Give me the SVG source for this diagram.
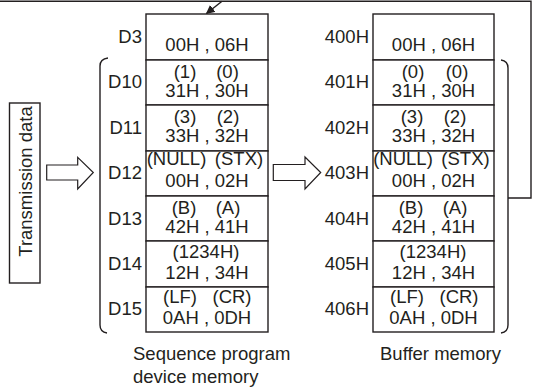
<svg xmlns="http://www.w3.org/2000/svg" width="533" height="387" viewBox="0 0 533 387">
<defs>
<style>
text{font-family:"Liberation Sans",Arial,sans-serif;font-size:18.5px;fill:#231f20}
.m{text-anchor:middle}
.e{text-anchor:end}
.cell{fill:#fff;stroke:#231f20;stroke-width:1.4}
.ln{fill:none;stroke:#231f20;stroke-width:1.4}
.hollow{fill:#fff;stroke:#231f20;stroke-width:1.2;stroke-linejoin:miter}
</style>
<marker id="ah" viewBox="0 0 10 10" refX="9" refY="5" markerWidth="9" markerHeight="9" markerUnits="userSpaceOnUse" orient="auto">
<path d="M0,0 L10,5 L0,10 z" fill="#231f20"/>
</marker>
</defs>
<rect width="533" height="387" fill="#fff"/>

<g id="transmission-data">
<rect x="9.5" y="103" width="30.5" height="180" class="cell"/>
<text class="m" transform="translate(32,181.5) rotate(-90)">Transmission data</text>
</g>

<g id="brackets">
<path class="ln" d="M108,58 Q100,59 100,66 L100,325 Q100,332 107,333"/>
<path class="ln" d="M501,60 Q508,61 508,68 L508,325 Q508,332 501,333"/>
</g>

<g id="left-memory">
<g id="D3">
<rect x="146" y="14" width="122" height="46" class="cell"/>
<text class="e" x="142" y="43">D3</text>
<text class="m" x="207" y="51">00H , 06H</text>
</g>
<g id="D10">
<rect x="146" y="60" width="122" height="45" class="cell"/>
<text class="e" x="142" y="88">D10</text>
<text class="m" x="185" y="77.5">(1)</text>
<text class="m" x="227.5" y="77.5">(0)</text>
<text class="m" x="207" y="97">31H , 30H</text>
</g>
<g id="D11">
<rect x="146" y="105" width="122" height="46" class="cell"/>
<text class="e" x="142" y="133.5">D11</text>
<text class="m" x="185" y="122.5">(3)</text>
<text class="m" x="228" y="122.5">(2)</text>
<text class="m" x="207" y="142">33H , 32H</text>
</g>
<g id="D12">
<rect x="146" y="151" width="122" height="45" class="cell"/>
<text class="e" x="142" y="178.5">D12</text>
<text class="m" x="176.5" y="165">(NULL)</text>
<text class="m" x="239" y="165">(STX)</text>
<text class="m" x="207" y="187">00H , 02H</text>
</g>
<g id="D13">
<rect x="146" y="196" width="122" height="45" class="cell"/>
<text class="e" x="142" y="225">D13</text>
<text class="m" x="184" y="213.5">(B)</text>
<text class="m" x="228" y="213.5">(A)</text>
<text class="m" x="207" y="233">42H , 41H</text>
</g>
<g id="D14">
<rect x="146" y="241" width="122" height="46" class="cell"/>
<text class="e" x="142" y="270">D14</text>
<text class="m" x="206" y="258">(1234H)</text>
<text class="m" x="207" y="278.5">12H , 34H</text>
</g>
<g id="D15">
<rect x="146" y="287" width="122" height="45" class="cell"/>
<text class="e" x="142" y="315">D15</text>
<text class="m" x="180" y="303">(LF)</text>
<text class="m" x="232" y="303">(CR)</text>
<text class="m" x="207" y="324">0AH , 0DH</text>
</g>
</g>

<g id="buffer-memory">
<g id="B400H">
<rect x="373" y="14" width="121" height="46" class="cell"/>
<text class="e" x="369" y="43">400H</text>
<text class="m" x="433.5" y="51">00H , 06H</text>
</g>
<g id="B401H">
<rect x="373" y="60" width="121" height="45" class="cell"/>
<text class="e" x="369" y="88">401H</text>
<text class="m" x="413" y="77.5">(0)</text>
<text class="m" x="457" y="77.5">(0)</text>
<text class="m" x="433.5" y="97">31H , 30H</text>
</g>
<g id="B402H">
<rect x="373" y="105" width="121" height="46" class="cell"/>
<text class="e" x="369" y="133.5">402H</text>
<text class="m" x="412" y="122.5">(3)</text>
<text class="m" x="455" y="122.5">(2)</text>
<text class="m" x="433.5" y="142">33H , 32H</text>
</g>
<g id="B403H">
<rect x="373" y="151" width="121" height="45" class="cell"/>
<text class="e" x="369" y="178.5">403H</text>
<text class="m" x="403" y="165">(NULL)</text>
<text class="m" x="465.5" y="165">(STX)</text>
<text class="m" x="433.5" y="187">00H , 02H</text>
</g>
<g id="B404H">
<rect x="373" y="196" width="121" height="45" class="cell"/>
<text class="e" x="369" y="225">404H</text>
<text class="m" x="411" y="213.5">(B)</text>
<text class="m" x="455" y="213.5">(A)</text>
<text class="m" x="433.5" y="233">42H , 41H</text>
</g>
<g id="B405H">
<rect x="373" y="241" width="121" height="46" class="cell"/>
<text class="e" x="369" y="270">405H</text>
<text class="m" x="433" y="258">(1234H)</text>
<text class="m" x="433.5" y="278.5">12H , 34H</text>
</g>
<g id="B406H">
<rect x="373" y="287" width="121" height="45" class="cell"/>
<text class="e" x="369" y="315">406H</text>
<text class="m" x="407" y="303">(LF)</text>
<text class="m" x="459" y="303">(CR)</text>
<text class="m" x="433.5" y="324">0AH , 0DH</text>
</g>
</g>

<g id="captions">
<text x="133" y="360">Sequence program</text>
<text x="133" y="383">device memory</text>
<text class="m" x="440.5" y="360">Buffer memory</text>
</g>

<g id="connectors">
<polygon class="hollow" points="46.7,165 77.7,165 77.7,157.3 93.3,172.5 77.7,189 77.7,180 46.7,180"/>
<polygon class="hollow" points="273.3,164.5 305,164.5 305,157 320.7,172.5 305,189 305,180.5 273.3,180.5"/>
<path class="ln" d="M508,198 H531 V1.2 H0"/>
<line class="ln" x1="222" y1="1.2" x2="206.5" y2="13.5" marker-end="url(#ah)"/>
</g>
</svg>
